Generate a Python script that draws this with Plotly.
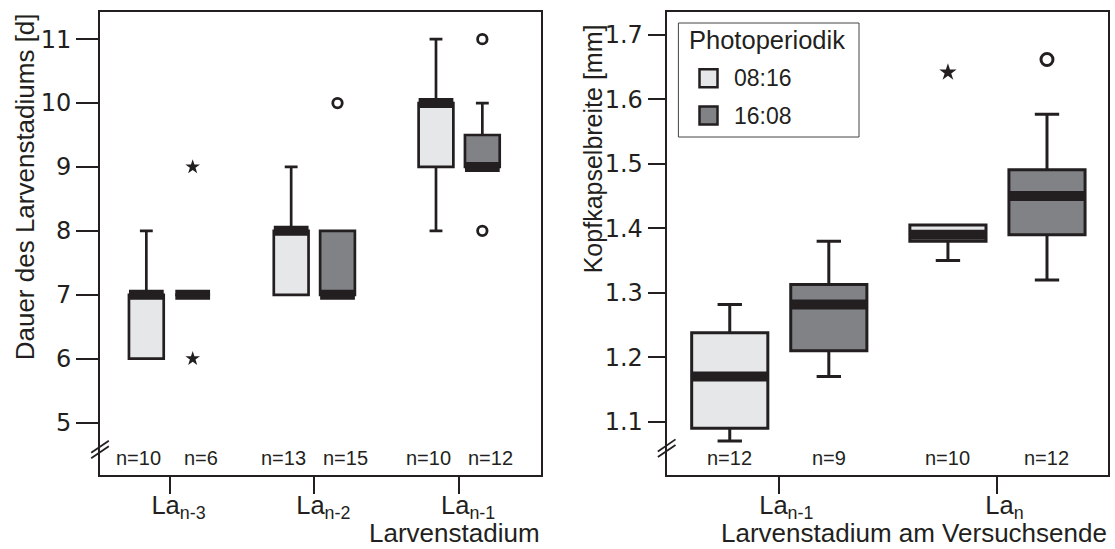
import plotly.graph_objects as go

# ---------------- data ----------------
periods = ["08:16", "16:08"]

# left panel: Dauer des Larvenstadiums [d]
dauer_stages = ["La<sub>n-3</sub>", "La<sub>n-2</sub>", "La<sub>n-1</sub>"]

dauer_kurz_q1 = [6, 7, 9]
dauer_kurz_med = [7, 8, 10]
dauer_kurz_q3 = [7, 8, 10]
dauer_kurz_lo = [6, 7, 8]
dauer_kurz_hi = [8, 9, 11]
dauer_kurz_n = [10, 13, 10]

dauer_lang_q1 = [7, 7, 9]
dauer_lang_med = [7, 7, 9]
dauer_lang_q3 = [7, 8, 9.5]
dauer_lang_lo = [7, 7, 9]
dauer_lang_hi = [7, 8, 10]
dauer_lang_n = [6, 15, 12]

dauer_lang_ausr_stage = [1, 2, 2]
dauer_lang_ausr = [10, 11, 8]
dauer_lang_extr_stage = [0, 0]
dauer_lang_extr = [9, 6]

# right panel: Kopfkapselbreite [mm]
kopf_stages = ["La<sub>n-1</sub>", "La<sub>n</sub>"]

kopf_kurz_q1 = [1.09, 1.38]
kopf_kurz_med = [1.17, 1.39]
kopf_kurz_q3 = [1.238, 1.405]
kopf_kurz_lo = [1.07, 1.35]
kopf_kurz_hi = [1.282, 1.405]
kopf_kurz_n = [12, 10]

kopf_lang_q1 = [1.21, 1.39]
kopf_lang_med = [1.282, 1.45]
kopf_lang_q3 = [1.313, 1.491]
kopf_lang_lo = [1.17, 1.32]
kopf_lang_hi = [1.38, 1.577]
kopf_lang_n = [9, 12]

kopf_kurz_extr_stage = [1]
kopf_kurz_extr = [1.642]
kopf_lang_ausr_stage = [1]
kopf_lang_ausr = [1.662]

# ---------------- styling ----------------
W, H = 1115, 549
INK = "#231f20"
FILL = {"08:16": "#e6e7e8", "16:08": "#808285"}
FONT = "Liberation Sans, Arial, sans-serif"
WIDE_FONT = "DejaVu Sans, Liberation Sans, sans-serif"


def fx(p):
    return p / W


def fy(p):
    return 1 - p / H


fig = go.Figure()


def add_boxes(xa, ya, stages, stats, offset, width, whisk, lw):
    for k, per in enumerate(periods):
        q1, med, q3, lo, hi = stats[per]
        xs = [i + (-offset if k == 0 else offset) for i in range(len(stages))]
        fig.add_trace(go.Box(
            x=xs, q1=q1, median=med, q3=q3, lowerfence=lo, upperfence=hi,
            width=width, whiskerwidth=whisk, fillcolor=FILL[per],
            line=dict(color=INK, width=lw), boxpoints=False,
            xaxis=xa, yaxis=ya, showlegend=False, hoverinfo="skip", name=per))
        # heavy median bar
        fig.add_trace(go.Box(
            x=xs, q1=med, median=med, q3=med, lowerfence=med, upperfence=med,
            width=width, whiskerwidth=0, fillcolor=INK,
            line=dict(color=INK, width=10), boxpoints=False,
            xaxis=xa, yaxis=ya, showlegend=False, hoverinfo="skip", name=per))


def add_points(xa, ya, stage_idx, vals, k, offset, symbol, size, lw):
    xs = [i + (-offset if k == 0 else offset) for i in stage_idx]
    if symbol == "star":
        marker = dict(symbol="star", size=size, color=INK, line=dict(width=0))
    else:
        marker = dict(symbol="circle-open", size=size, color=INK, line=dict(width=lw, color=INK))
    fig.add_trace(go.Scatter(x=xs, y=vals, mode="markers", marker=marker,
                             xaxis=xa, yaxis=ya, showlegend=False, hoverinfo="skip"))


# left panel
L_OFF, L_W = 0.16, 0.24
add_boxes("x", "y", dauer_stages,
          {"08:16": (dauer_kurz_q1, dauer_kurz_med, dauer_kurz_q3, dauer_kurz_lo, dauer_kurz_hi),
           "16:08": (dauer_lang_q1, dauer_lang_med, dauer_lang_q3, dauer_lang_lo, dauer_lang_hi)},
          L_OFF, L_W, 0.37, 2.7)
add_points("x", "y", dauer_lang_ausr_stage, dauer_lang_ausr, 1, L_OFF, "circle", 9.5, 2.8)
add_points("x", "y", dauer_lang_extr_stage, dauer_lang_extr, 1, L_OFF, "star", 11, 0)

# right panel
R_OFF, R_W = 0.227, 0.349
add_boxes("x2", "y2", kopf_stages,
          {"08:16": (kopf_kurz_q1, kopf_kurz_med, kopf_kurz_q3, kopf_kurz_lo, kopf_kurz_hi),
           "16:08": (kopf_lang_q1, kopf_lang_med, kopf_lang_q3, kopf_lang_lo, kopf_lang_hi)},
          R_OFF, R_W, 0.32, 3)
add_points("x2", "y2", kopf_kurz_extr_stage, kopf_kurz_extr, 0, R_OFF, "star", 13, 0)
add_points("x2", "y2", kopf_lang_ausr_stage, kopf_lang_ausr, 1, R_OFF, "circle", 12, 3)

# sample sizes along the bottom of each panel
annos = []
N_LAB_OFF = 0.215
for i, (a, b) in enumerate(zip(dauer_kurz_n, dauer_lang_n)):
    for k, n in enumerate((a, b)):
        annos.append(dict(x=i + (-N_LAB_OFF if k == 0 else N_LAB_OFF), xref="x",
                          y=0.036, yref="y domain", text=f"n={n}", showarrow=False,
                          font=dict(size=20, color=INK, family=FONT), yanchor="middle"))
for i, (a, b) in enumerate(zip(kopf_kurz_n, kopf_lang_n)):
    for k, n in enumerate((a, b)):
        annos.append(dict(x=i + (-R_OFF if k == 0 else R_OFF), xref="x2",
                          y=0.036, yref="y2 domain", text=f"n={n}", showarrow=False,
                          font=dict(size=20, color=INK, family=FONT), yanchor="middle"))

# axis titles
annos += [
    dict(x=fx(24.7), y=fy(186.6), xref="paper", yref="paper", text="Dauer des Larvenstadiums [d]",
         textangle=-90, showarrow=False, font=dict(size=26, color=INK, family=FONT),
         xanchor="center", yanchor="middle"),
    dict(x=fx(592.6), y=fy(148.7), xref="paper", yref="paper", text="Kopfkapselbreite [mm]",
         textangle=-90, showarrow=False, font=dict(size=25, color=INK, family=FONT),
         xanchor="center", yanchor="middle"),
    dict(x=fx(542), y=0, xref="paper", yref="paper", text="Larvenstadium",
         showarrow=False, font=dict(size=26, color=INK, family=FONT),
         xanchor="right", yanchor="bottom", yshift=-1),
    dict(x=fx(1109), y=0, xref="paper", yref="paper", text="Larvenstadium am Versuchsende",
         showarrow=False, font=dict(size=26, color=INK, family=FONT),
         xanchor="right", yanchor="bottom", yshift=-1),
]

# legend (drawn by hand so the swatches can be large)
shapes = [
    dict(type="rect", xref="paper", yref="paper", x0=fx(678.4), x1=fx(859), y0=fy(137), y1=fy(23),
         line=dict(color="#444444", width=1), fillcolor="white", layer="above"),
]
annos.append(dict(x=fx(687), y=fy(40), xref="paper", yref="paper", text="Photoperiodik",
                  showarrow=False, font=dict(size=25.5, color=INK, family=FONT),
                  xanchor="left", yanchor="middle"))
for k, (per, yc) in enumerate(zip(periods, (78.3, 115.5))):
    shapes.append(dict(type="rect", xref="paper", yref="paper",
                       x0=fx(699.5), x1=fx(717.5), y0=fy(yc + 9), y1=fy(yc - 9),
                       line=dict(color=INK, width=2.5), fillcolor=FILL[per], layer="above"))
    annos.append(dict(x=fx(732), y=fy(yc), xref="paper", yref="paper", text=per,
                      showarrow=False, font=dict(size=23, color=INK, family=FONT),
                      xanchor="left", yanchor="middle"))

# axis-break marks on the y axes
for xa_dom, ya_dom, yb in (("x domain", "y domain", 0.055), ("x2 domain", "y2 domain", 0.058)):
    for d in (-0.006, 0.006):
        shapes.append(dict(type="line", xref=xa_dom, yref=ya_dom,
                           x0=-0.02, x1=0.02, y0=yb + d - 0.013, y1=yb + d + 0.013,
                           line=dict(color=INK, width=1.8)))

ydom = [fy(475), fy(12.3)]
axis_common = dict(showline=True, linecolor=INK, linewidth=2, mirror=True, showgrid=False,
                   zeroline=False, ticks="outside", tickcolor=INK, tickwidth=2)
xfont = dict(size=25.5, color=INK, family=FONT)
yfont = dict(size=24, color=INK, family=WIDE_FONT)

fig.update_layout(
    width=W, height=H, margin=dict(l=0, r=0, t=0, b=0),
    paper_bgcolor="white", plot_bgcolor="white", showlegend=False,
    xaxis=dict(domain=[fx(100), fx(540.7)], range=[-0.48, 2.563], tickvals=[0, 1, 2],
               ticktext=dauer_stages, ticklen=17, ticklabelshift=9, ticklabelstandoff=-11,
               tickfont=xfont, anchor="y", **axis_common),
    yaxis=dict(domain=ydom, range=[4.18, 11.42], tickvals=[5, 6, 7, 8, 9, 10, 11],
               ticklen=22, tickfont=yfont, anchor="x", **axis_common),
    xaxis2=dict(domain=[fx(666.7), fx(1108.3)], range=[-0.516, 1.508], tickvals=[0, 1],
                ticktext=kopf_stages, ticklen=17, ticklabelshift=7, ticklabelstandoff=-11,
                tickfont=xfont, anchor="y2", **axis_common),
    yaxis2=dict(domain=ydom, range=[1.0173, 1.7352], tickvals=[1.1, 1.2, 1.3, 1.4, 1.5, 1.6, 1.7],
                tickformat=".1f", ticklen=17, tickfont=yfont, anchor="x2", **axis_common),
    annotations=annos, shapes=shapes,
)

fig.write_html("out.html")
